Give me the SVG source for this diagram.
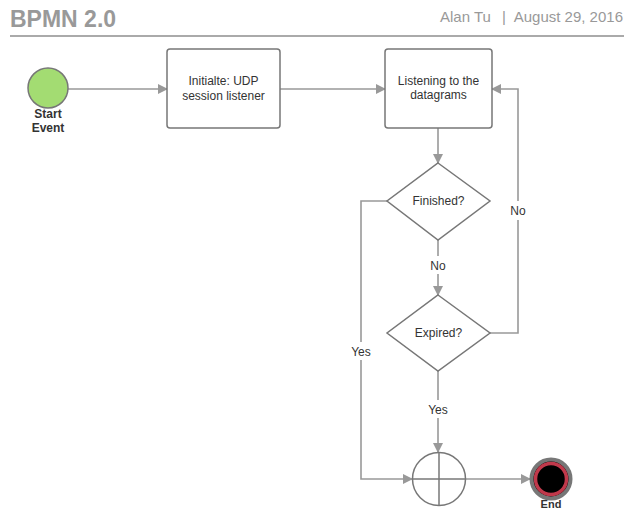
<svg xmlns="http://www.w3.org/2000/svg" width="638" height="531" viewBox="0 0 638 531">
<defs>
<marker id="ah" markerWidth="10" markerHeight="10" refX="9" refY="5" orient="auto" markerUnits="userSpaceOnUse">
<path d="M0,0 L10,5 L0,10 z" fill="#999"/>
</marker>
<style>
.t{font-family:"Liberation Sans",Arial,sans-serif;font-size:12px;fill:#333;text-anchor:middle}
.b{font-weight:bold}
.box{fill:#fff;stroke:#777;stroke-width:1.5}
.c{fill:none;stroke:#999;stroke-width:1.6}
.lbl{font-family:"Liberation Sans",Arial,sans-serif;font-size:12px;fill:#333;text-anchor:middle}
.h{font-family:"Liberation Sans",Arial,sans-serif;font-size:15px;fill:#999}
</style>
</defs>
<rect width="638" height="531" fill="#fff"/>
<g id="header">
<text x="10" y="27" style="font-family:'Liberation Sans',Arial,sans-serif;font-size:23px;font-weight:bold;fill:#999">BPMN 2.0</text>
<text class="h" x="440" y="22">Alan Tu</text>
<text class="h" x="502" y="22">|</text>
<text class="h" x="623" y="22" text-anchor="end">August 29, 2016</text>
<line x1="10" y1="36" x2="624" y2="36" stroke="#aaa" stroke-width="2"/>
</g>
<g id="connectors">
<line class="c" x1="68" y1="89" x2="167" y2="89" marker-end="url(#ah)"/>
<line class="c" x1="280" y1="89" x2="385" y2="89" marker-end="url(#ah)"/>
<line class="c" x1="438" y1="128" x2="438" y2="163" marker-end="url(#ah)"/>
<line class="c" x1="438" y1="240" x2="438" y2="256"/>
<line class="c" x1="438" y1="274" x2="438" y2="295" marker-end="url(#ah)"/>
<polyline class="c" points="490,333 518,333 518,220"/>
<polyline class="c" points="518,201 518,89 492,89" marker-end="url(#ah)"/>
<polyline class="c" points="387,201 361,201 361,342"/>
<polyline class="c" points="361,360 361,479 412,479" marker-end="url(#ah)"/>
<line class="c" x1="438" y1="371" x2="438" y2="400"/>
<line class="c" x1="438" y1="418" x2="438" y2="452" marker-end="url(#ah)"/>
<line class="c" x1="465" y1="479" x2="530" y2="479" marker-end="url(#ah)"/>
<text class="lbl" x="438" y="270">No</text>
<text class="lbl" x="518" y="215">No</text>
<text class="lbl" x="361" y="356">Yes</text>
<text class="lbl" x="438" y="414">Yes</text>
</g>
<g id="start">
<circle cx="48" cy="88" r="20" fill="#a3dc72" stroke="#777" stroke-width="1.5"/>
<text class="t b" x="48" y="118">Start</text>
<text class="t b" x="48" y="132">Event</text>
</g>
<g id="task1">
<rect class="box" x="167" y="49" width="113" height="79" rx="3"/>
<text class="t" x="223.5" y="85">Initialte: UDP</text>
<text class="t" x="223.5" y="100">session listener</text>
</g>
<g id="task2">
<rect class="box" x="385" y="49" width="107" height="79" rx="3"/>
<text class="t" x="438.5" y="85">Listening to the</text>
<text class="t" x="438.5" y="99">datagrams</text>
</g>
<g id="finished">
<polygon class="box" points="438,163 490,201 438,240 387,201"/>
<text class="t" x="438.5" y="205">Finished?</text>
</g>
<g id="expired">
<polygon class="box" points="438,295 490,333 438,371 387,333"/>
<text class="t" x="438.5" y="337">Expired?</text>
</g>
<g id="gateway">
<circle cx="439" cy="479" r="26.5" fill="#fff" stroke="#777" stroke-width="1.5"/>
<line x1="439" y1="452.5" x2="439" y2="505.5" stroke="#777" stroke-width="1.5"/>
<line x1="412.5" y1="479" x2="465.5" y2="479" stroke="#777" stroke-width="1.5"/>
</g>
<g id="end">
<circle cx="551" cy="479" r="19.5" fill="#000" stroke="#777" stroke-width="4"/>
<circle cx="551" cy="479" r="15.5" fill="#000" stroke="#c0394b" stroke-width="3.5"/>
<text class="t b" x="551" y="508" style="font-size:11px">End</text>
</g>
</svg>
